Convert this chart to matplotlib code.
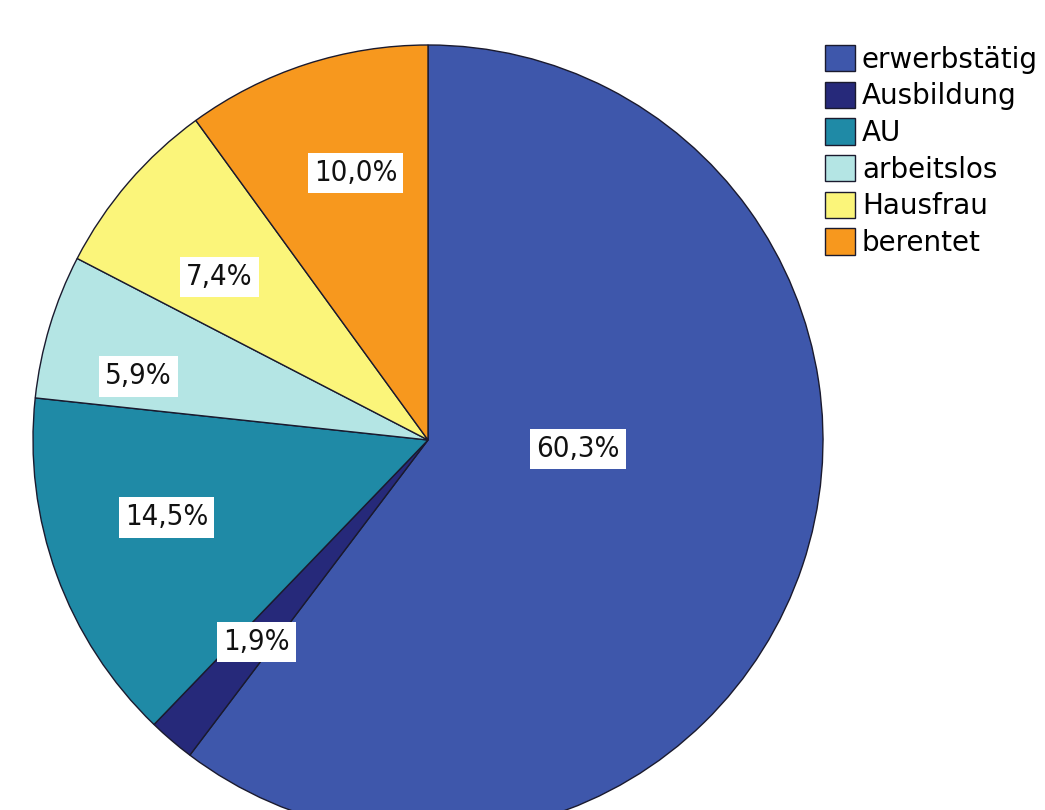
import matplotlib
matplotlib.use("Agg")
import matplotlib.pyplot as plt
import numpy as np

labels = ["erwerbstätig", "Ausbildung", "AU", "arbeitslos", "Hausfrau", "berentet"]
values = [60.3, 1.9, 14.5, 5.9, 7.4, 10.0]
colors = ["#3e57ab", "#26297a", "#1f8aa6", "#b4e5e4", "#fbf57a", "#f7981e"]

# where SPSS put each percentage label: (angle in degrees, fraction of radius)
label_place = [(-3.4, 0.38), (-130.3, 0.67), (-163.5, 0.69),
               (167.6, 0.75), (142.0, 0.67), (105.2, 0.70)]

W, H = 1045, 810
cx, cy, R = 428, 370, 395
fig = plt.figure(figsize=(W / 100, H / 100), dpi=100)
ax = fig.add_axes([0, 0, 1, 1])

wedges, texts, autotexts = ax.pie(
    values, colors=colors, startangle=90, counterclock=False,
    center=(cx, cy), radius=R,
    autopct=lambda p: f"{p:.1f}%".replace(".", ","),
    wedgeprops=dict(edgecolor="#1a1a2e", linewidth=1.0),
    textprops=dict(fontsize=21, color="#111111", fontstretch="condensed"),
)
ax.set_xlim(0, W)
ax.set_ylim(0, H)
ax.set_aspect("equal")
ax.axis("off")

for t, (a, f) in zip(autotexts, label_place):
    a = np.deg2rad(a)
    t.set_position((cx + f * R * np.cos(a), cy + f * R * np.sin(a)))
    t.set_bbox(dict(facecolor="white", edgecolor="none", pad=4.5))

fig.legend(wedges, labels, loc="upper left",
           bbox_to_anchor=(825 / W, 1 - 45 / H), frameon=False,
           prop=dict(size=20),
           handlelength=1.08, handleheight=1.08,
           handletextpad=0.25, labelspacing=0.29, borderpad=0,
           borderaxespad=0)

fig.savefig("out.png", dpi=100)
